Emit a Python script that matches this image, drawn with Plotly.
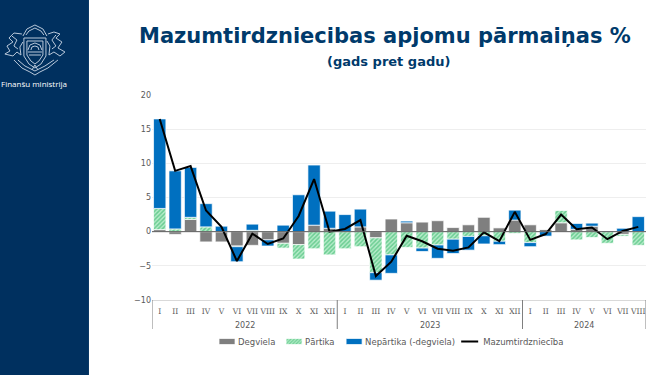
import plotly.graph_objects as go

months = ['I', 'II', 'III', 'IV', 'V', 'VI', 'VII', 'VIII', 'IX', 'X', 'XI', 'XII']
year_names = ['2022', '2023', '2024']
year_lengths = [12, 12, 8]
month_labels = months + months + months[:8]

degviela = [0.3, -0.4, 1.8, -1.5, -1.5, -2.1, -2.0, -1.2, -1.7, -1.9, 0.95, 0.5,
            0.0, 0.7, -0.9, 1.85, 1.3, 1.4, 1.6, 0.6, 1.0, 2.1, 0.55, 1.7,
            1.0, 0.35, 1.3, 0.35, 0.8, 0.0, -0.4, 0.0]
partika = [3.1, 0.4, 0.3, 0.7, 0.0, -0.1, 0.2, 0.1, -0.7, -2.1, -2.5, -3.4,
           -2.5, -2.2, -5.1, -3.4, -2.3, -2.4, -1.95, -1.1, -0.7, -0.6, -1.4, -0.25,
           -1.6, 0.0, 1.85, -1.2, -0.85, -1.7, -0.25, -2.0]
nepartika = [13.1, 8.5, 7.3, 3.4, 0.8, -2.2, 0.9, -0.9, 0.95, 5.4, 8.8, 2.5,
             2.5, 2.6, -1.1, -2.7, 0.25, -0.5, -1.95, -2.1, -2.0, -1.2, -0.5, 1.45,
             -0.6, -0.65, 0.0, 0.85, 0.45, 0.1, 0.5, 2.2]
mazumtirdznieciba = [16.5, 8.9, 9.6, 3.1, 0.7, -4.3, -0.3, -1.8, -1.0, 2.3, 7.7, 0.0,
                     0.4, 1.7, -6.5, -4.4, -0.6, -1.4, -2.5, -2.8, -2.3, -0.1, -1.4, 2.9,
                     -1.2, -0.35, 2.5, 0.35, 0.6, -1.1, 0.1, 0.7]

NAVY = '#00305f'
TEXT = '#595959'
L, R, T, B = 152.0, 645.7, 95.0, 300.0


def fx(x):
    return (x - L) / (R - L)


def fy(y):
    return (B - y) / (B - T)


def path(points, close=False):
    d = 'M ' + ' L '.join(f'{fx(x):.4f},{fy(y):.4f}' for x, y in points)
    return d + (' Z' if close else '')


x = list(range(len(month_labels)))
outline = dict(color='rgba(255,255,255,0.7)', width=1)

fig = go.Figure()
fig.add_trace(go.Bar(x=x, y=degviela, name='Degviela', legend='legend', showlegend=True,
                     marker=dict(color='#7f7f7f', line=outline)))
fig.add_trace(go.Bar(x=x, y=partika, name='Pārtika', legend='legend2', showlegend=True,
                     marker=dict(color='#ffffff', line=outline,
                                 pattern=dict(shape='/', size=3, solidity=0.5,
                                              fgcolor='#1fae5c', bgcolor='#b6ecc9'))))
fig.add_trace(go.Bar(x=x, y=nepartika, name='Nepārtika (-degviela)', legend='legend3', showlegend=True,
                     marker=dict(color='#0070c0', line=outline)))
fig.add_trace(go.Scatter(x=x, y=mazumtirdznieciba, name='Mazumtirdzniecība', legend='legend4',
                         showlegend=True, mode='lines', line=dict(color='#000000', width=2)))

# side panel
fig.add_shape(type='rect', xref='paper', yref='paper', x0=fx(0), x1=fx(89), y0=fy(0), y1=fy(375),
              fillcolor=NAVY, line_width=0, layer='below')

# coat of arms, rough line drawing
emblem = dict(color='#b9c8da', width=1)
emblem_parts = [
    path([(24, 38), (46, 38), (46, 56), (41, 64), (35, 68), (29, 64), (24, 56)], True),
    path([(27, 41), (43, 41), (43, 55), (39, 61), (35, 64), (31, 61), (27, 55)], True),
    path([(28, 50), (30, 45), (35, 43), (40, 45), (42, 50)]),
    path([(31, 50), (32, 47), (35, 46), (38, 47), (39, 50)]),
    path([(28, 52), (42, 52)]),
    path([(29, 55), (41, 55)]),
    path([(23, 36), (27, 29), (35, 25), (43, 29), (47, 36)]),
    path([(26, 35), (29, 31), (35, 28), (41, 31), (44, 35)]),
    path([(22, 34), (14, 33), (9, 38), (13, 42), (7, 46), (10, 51), (5, 54), (13, 56),
          (17, 52), (21, 55), (20, 47), (23, 42)]),
    path([(12, 36), (17, 40), (14, 46), (18, 49)]),
    path([(48, 34), (54, 32), (60, 34), (56, 38), (62, 42), (58, 48), (65, 52), (60, 56),
          (54, 52), (49, 55), (50, 46), (47, 41)]),
    path([(56, 35), (52, 40), (56, 46), (52, 49)]),
    path([(14, 60), (22, 68), (30, 72), (35, 75), (40, 72), (48, 68), (58, 60)]),
    path([(18, 60), (25, 66), (35, 71), (45, 66), (54, 60)]),
    path([(32, 70), (35, 65), (38, 70)]),
]
for d in emblem_parts:
    fig.add_shape(type='path', xref='paper', yref='paper', path=d, line=emblem, layer='below')

# zero line sits over the bars
fig.add_shape(type='line', xref='paper', yref='y', x0=0, x1=1, y0=0, y1=0,
              line=dict(color='#595959', width=1), layer='above')

# year labels and dividers under the month ticks
start = -0.5
fig.add_shape(type='line', xref='x', yref='paper', x0=start, x1=start, y0=0, y1=fy(329),
              line=dict(color='#7f7f7f', width=1))
for name, length in zip(year_names, year_lengths):
    end = start + length
    fig.add_shape(type='line', xref='x', yref='paper', x0=end, x1=end, y0=0, y1=fy(329),
                  line=dict(color='#7f7f7f', width=1))
    fig.add_annotation(text=name, xref='x', yref='paper', x=(start + end) / 2, y=fy(325),
                       yanchor='middle', showarrow=False,
                       font=dict(family='DejaVu Sans', size=8, color=TEXT))
    start = end

fig.add_annotation(text='Finanšu ministrija', xref='paper', yref='paper', x=fx(-1), y=fy(84),
                   xanchor='left', yanchor='middle', showarrow=False,
                   font=dict(family='Open Sans', size=8, color='#ffffff'))
fig.add_annotation(text='<b>Mazumtirdzniecibas apjomu pārmaiņas %</b>', xref='paper', yref='paper',
                   x=fx(385), y=fy(36), xanchor='center', yanchor='middle', showarrow=False,
                   font=dict(family='DejaVu Sans', size=21, color='#003a6b'))
fig.add_annotation(text='<b>(gads pret gadu)</b>', xref='paper', yref='paper',
                   x=fx(388), y=fy(61), xanchor='center', yanchor='middle', showarrow=False,
                   font=dict(family='DejaVu Sans', size=13, color='#003a6b'))


def legend_at(px):
    return dict(orientation='h', x=fx(px), xanchor='left', y=fy(327), yanchor='top',
                font=dict(family='DejaVu Sans', size=8.5, color=TEXT),
                itemwidth=30, bgcolor='rgba(0,0,0,0)')


fig.update_layout(
    width=665,
    height=375,
    autosize=False,
    showlegend=True,
    barmode='relative',
    bargap=0.2,
    margin=dict(l=L, r=665 - R, t=T, b=375 - B, pad=0),
    plot_bgcolor='#ffffff',
    paper_bgcolor='#ffffff',
    font=dict(family='DejaVu Sans', size=8, color=TEXT),
    legend=legend_at(198),
    legend2=legend_at(265),
    legend3=legend_at(325),
    legend4=legend_at(443),
    xaxis=dict(range=[-0.5, len(x) - 0.5], tickmode='array', tickvals=x, ticktext=month_labels,
               tickangle=0, showgrid=False, zeroline=False, showline=True,
               linecolor='#d9d9d9', linewidth=1, ticks='outside', ticklen=4, tickcolor='#ffffff',
               tickfont=dict(family='DejaVu Serif', size=7.5, color=TEXT)),
    yaxis=dict(range=[-10, 20], tickvals=[-10, -5, 0, 5, 10, 15, 20], showgrid=True,
               gridcolor='#eeeeee', gridwidth=1, zeroline=False, showline=False, ticks='',
               tickfont=dict(family='DejaVu Sans', size=8, color=TEXT)),
)

# no page margin, wider legend swatches than plotly draws by default
post = """
document.body.style.margin = '0';
document.querySelectorAll('g.legendpoints path').forEach(function (p) {
  p.setAttribute('d', 'M17,3H1V-3H17Z');
});
document.querySelectorAll('g.legendlines path').forEach(function (p) {
  p.setAttribute('d', 'M18,0h17');
});
"""
fig.write_html('out.html', post_script=post, config=dict(displayModeBar=False))
